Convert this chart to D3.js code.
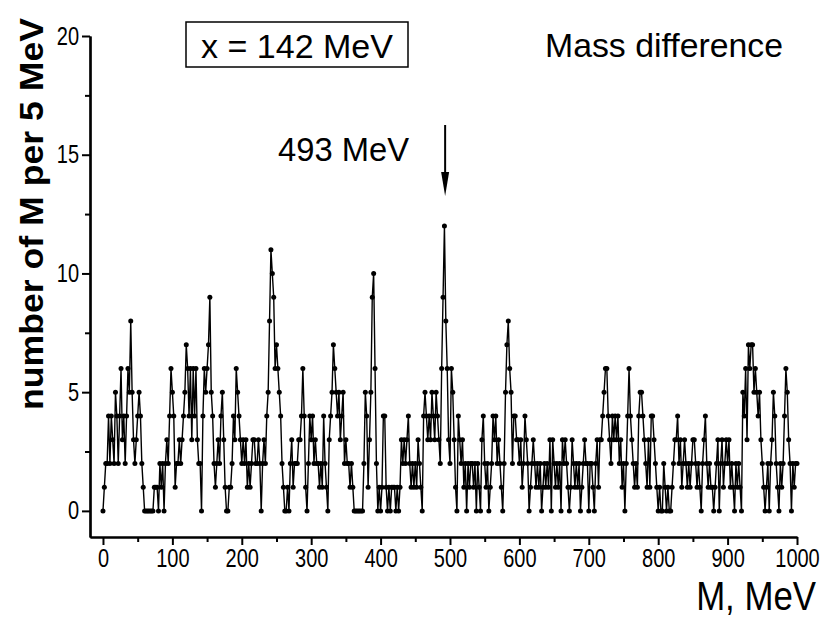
<!DOCTYPE html>
<html>
<head>
<meta charset="utf-8">
<script src="https://cdn.jsdelivr.net/npm/d3@7"></script>
<style>
  body { margin: 0; background: #fff; }
  svg text { font-family: "Liberation Sans Narrow", "Liberation Sans", Arial, sans-serif; fill: #000; }
</style>
</head>
<body>
<script>
// counts of M per 5 MeV window, one value every 2 MeV from 0 to 1000 MeV
var counts = [
  0,1,2,2,4,2,4,3,2,5,  4,2,4,6,3,4,2,4,6,5,  8,5,3,2,3,4,5,4,2,1,  0,0,0,0,0,0,0,1,1,1,
  0,2,1,2,0,2,3,2,4,6,  5,4,1,2,2,3,2,3,4,5,  7,6,4,6,3,6,4,6,3,2,  2,0,4,6,5,6,7,9,5,4,
  2,1,2,3,2,4,5,3,1,0,  0,1,1,2,4,3,6,5,4,3,  2,3,2,3,1,2,1,2,3,3,  2,2,3,2,0,2,3,2,4,5,
  8,11,10,9,6,7,6,5,4,2, 1,0,0,1,0,2,3,1,2,2, 2,3,3,4,6,4,1,0,2,4,  3,4,2,3,2,2,1,2,1,4,
  2,1,0,3,4,5,7,6,5,4,  5,3,4,5,2,3,2,2,1,2,  1,0,0,0,0,0,0,0,2,5,  4,1,3,5,9,10,6,2,0,1,
  0,1,4,4,1,0,1,0,1,1,  1,0,1,0,1,3,2,3,2,3,  4,2,1,2,1,2,1,3,2,1,  0,4,5,4,3,4,3,5,4,3,
  5,4,3,2,6,9,12,8,6,3, 2,6,5,3,1,0,4,3,2,3,  1,2,0,2,1,2,2,1,2,0,  2,1,0,3,4,2,1,2,0,1,
  2,4,3,4,2,3,2,1,0,2,  5,7,8,6,5,2,4,4,3,3,  2,3,1,2,4,3,2,0,1,2,  3,2,1,2,1,2,0,1,2,1,
  2,1,3,0,3,2,1,2,1,2,  0,3,2,3,2,1,0,1,3,2,  1,2,1,2,0,1,2,3,2,2,  0,2,2,1,0,2,3,1,3,3,
  4,5,6,6,4,3,2,4,3,4,  3,4,2,3,1,2,0,2,4,6,  4,3,2,1,2,1,4,5,5,4,  3,2,1,3,1,4,4,3,2,1,
  0,1,0,0,2,1,0,1,0,0,  1,2,3,3,4,2,3,1,2,3,  2,1,2,1,2,3,3,2,1,2,  1,0,2,3,4,2,1,2,1,1,
  0,1,2,3,0,2,3,1,2,3,  2,3,1,2,1,0,2,1,2,1,  0,5,4,6,3,7,6,7,7,5,  6,5,4,5,3,2,1,0,1,2,
  0,2,3,5,4,2,1,0,2,1,  2,4,6,5,3,2,0,2,1,2,  2
];
var massStep = 2;
var masses = counts.map(function(d, i) { return i * massStep; });

var xTicks = [0, 100, 200, 300, 400, 500, 600, 700, 800, 900, 1000];
var xMinor = [50, 150, 250, 350, 450, 550, 650, 750, 850, 950];
var yTicks = [0, 5, 10, 15, 20];
var yMinor = [2.5, 7.5, 12.5, 17.5];
var markedMass = 493;

var svgWidth = 825, svgHeight = 621;
var squeeze = 0.8; // narrow look of the original lettering

var svg = d3.select("body").append("svg")
  .attr("width", svgWidth)
  .attr("height", svgHeight);

// axes start a little before 0 so the frame sits off the data
var x = d3.scaleLinear().domain([-18.7, 1000]).range([90, 797]);
var y = d3.scaleLinear().domain([-1.1, 20]).range([537, 36]);

function styleAxis(g) {
  g.select(".domain").attr("stroke", "#000").attr("stroke-width", 2.2);
  g.selectAll(".tick line").attr("stroke", "#000").attr("stroke-width", 2);
  g.selectAll(".tick text").style("font-size", "25px").attr("fill", "#000");
}

// minor ticks first, then main axes on top
svg.append("g")
  .attr("transform", "translate(0,537)")
  .call(d3.axisBottom(x).tickValues(xMinor).tickSize(5).tickSizeOuter(0).tickFormat(""))
  .call(styleAxis);
svg.append("g")
  .attr("transform", "translate(90,0)")
  .call(d3.axisLeft(y).tickValues(yMinor).tickSize(5).tickSizeOuter(0).tickFormat(""))
  .call(styleAxis);

var xAxis = svg.append("g")
  .attr("transform", "translate(0,537)")
  .call(d3.axisBottom(x).tickValues(xTicks).tickSize(8).tickSizeOuter(0).tickPadding(4).tickFormat(d3.format("d")))
  .call(styleAxis);
xAxis.selectAll(".tick text").attr("transform", "scale(" + squeeze + ",1)");

var yAxis = svg.append("g")
  .attr("transform", "translate(90,0)")
  .call(d3.axisLeft(y).tickValues(yTicks).tickSize(8).tickSizeOuter(0).tickPadding(3))
  .call(styleAxis);
yAxis.selectAll(".tick text")
  .attr("x", -11 / squeeze)
  .attr("transform", "scale(" + squeeze + ",1)");

// data line with dots
var line = d3.line()
  .x(function(d, i) { return x(masses[i]); })
  .y(function(d) { return y(d); });

svg.append("path")
  .datum(counts)
  .attr("d", line)
  .attr("fill", "none")
  .attr("stroke", "#000")
  .attr("stroke-width", 1.4)
  .attr("stroke-linejoin", "round");

svg.append("g").selectAll("circle")
  .data(counts)
  .enter()
  .append("circle")
    .attr("cx", function(d, i) { return x(masses[i]); })
    .attr("cy", function(d) { return y(d); })
    .attr("r", 2.5)
    .attr("fill", "#000");

// axis titles
svg.append("text")
  .attr("transform", "translate(43,214) rotate(-90)")
  .attr("text-anchor", "middle")
  .attr("textLength", 392)
  .attr("lengthAdjust", "spacingAndGlyphs")
  .style("font-family", "'Liberation Sans', Arial, sans-serif")
  .style("font-weight", "bold")
  .style("font-size", "34px")
  .text("number of M per 5 MeV");

svg.append("text")
  .attr("transform", "translate(816,610) scale(0.87,1)")
  .attr("text-anchor", "end")
  .style("font-family", "'Liberation Sans', Arial, sans-serif")
  .style("font-size", "40px")
  .text("M, MeV");

// label box
svg.append("rect")
  .attr("x", 186).attr("y", 22)
  .attr("width", 222).attr("height", 45)
  .attr("fill", "none")
  .attr("stroke", "#000")
  .attr("stroke-width", 1.5);

svg.append("text")
  .attr("x", 201)
  .attr("y", 58)
  .attr("textLength", 192)
  .attr("lengthAdjust", "spacingAndGlyphs")
  .style("font-size", "33px")
  .text("x = 142 MeV");

svg.append("text")
  .attr("x", 545)
  .attr("y", 57)
  .attr("textLength", 238)
  .attr("lengthAdjust", "spacingAndGlyphs")
  .style("font-size", "33px")
  .text("Mass difference");

// arrow at 493 MeV
var ax = x(markedMass);
svg.append("line")
  .attr("x1", ax).attr("x2", ax)
  .attr("y1", 125).attr("y2", 180)
  .attr("stroke", "#000")
  .attr("stroke-width", 2);
svg.append("path")
  .attr("d", "M" + (ax - 4) + ",172 L" + ax + ",196 L" + (ax + 4) + ",172 Z")
  .attr("fill", "#000");

svg.append("text")
  .attr("x", 278)
  .attr("y", 161)
  .attr("textLength", 131)
  .attr("lengthAdjust", "spacingAndGlyphs")
  .style("font-size", "33px")
  .text("493 MeV");
</script>
</body>
</html>
